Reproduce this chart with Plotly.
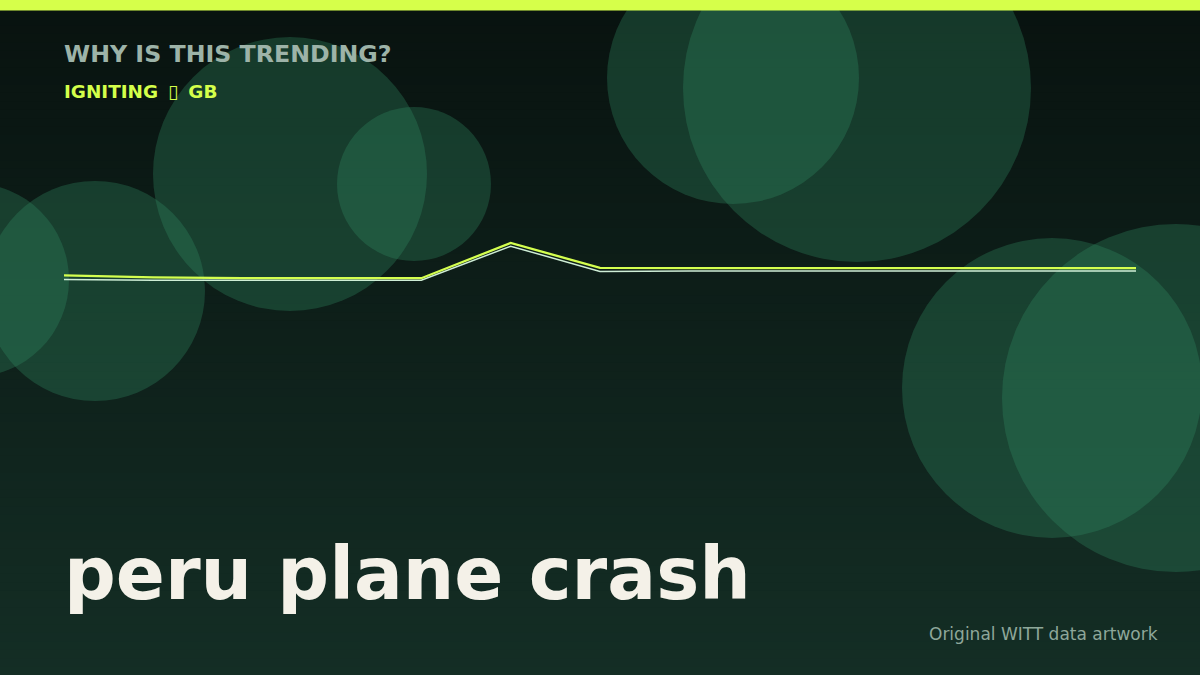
import plotly.graph_objects as go

# Trend data (search interest, arbitrary units)
periods = ["T-12", "T-11", "T-10", "T-9", "T-8", "T-7", "T-6",
           "T-5", "T-4", "T-3", "T-2", "T-1", "T0"]
interest = [19, 14, 12, 12, 12, 100, 38, 37, 37, 37, 37, 37, 37]
echo = [9, 7, 7, 7, 7, 92, 29, 30, 30, 30, 30, 30, 30]

# Texts
kicker = "WHY IS THIS TRENDING?"
status = "IGNITING \u2009\u25AF\u2009 GB"
topic = "peru plane crash"
credit = "Original WITT data artwork"

W, H = 1200, 675

# Decorative bubbles: (cx, cy, r) in pixels
bubbles = [(-28, 280, 97), (95, 291, 110), (290, 174, 137), (414, 184, 77),
           (733, 78, 126), (857, 88, 174), (1052, 388, 150), (1176, 398, 174)]


def mix(c1, c2, t):
    return "rgb(%d,%d,%d)" % tuple(round(a + (b - a) * t) for a, b in zip(c1, c2))


shapes = []
# vertical background gradient (bands overlap a little to hide seams)
top_col, bot_col = (8, 18, 15), (20, 46, 37)
n = 80
for i in range(n):
    shapes.append(dict(type="rect", xref="paper", yref="paper",
                       x0=0, x1=1, y0=max(0, 1 - (i + 1.6) / n), y1=1 - i / n,
                       fillcolor=mix(top_col, bot_col, (i + 0.5) / n),
                       line=dict(width=0), layer="below"))

for cx, cy, r in bubbles:
    shapes.append(dict(type="circle", xref="paper", yref="paper",
                       x0=(cx - r) / W, x1=(cx + r) / W,
                       y0=1 - (cy + r) / H, y1=1 - (cy - r) / H,
                       fillcolor="rgba(50,140,100,0.32)",
                       line=dict(width=0), layer="below"))

# top accent bar
shapes.append(dict(type="rect", xref="paper", yref="paper",
                   x0=0, x1=1, y0=1 - 10.5 / H, y1=1,
                   fillcolor="#d6ff4a", line=dict(width=0), layer="below"))

fig = go.Figure()
fig.add_trace(go.Scatter(x=periods, y=echo, mode="lines",
                         line=dict(color="#cfeed6", width=1.5), hoverinfo="skip"))
fig.add_trace(go.Scatter(x=periods, y=interest, mode="lines",
                         line=dict(color="#d4ff4f", width=2.3), hoverinfo="skip"))

annotations = [
    dict(text="<b>%s</b>" % kicker, x=62 / W, y=1 - 54 / H, xanchor="left", yanchor="middle",
         font=dict(family="DejaVu Sans", size=23.7, color="#9db3a8")),
    dict(text="<b>%s</b>" % status, x=62 / W, y=1 - 91.5 / H, xanchor="left", yanchor="middle",
         font=dict(family="DejaVu Sans", size=18.4, color="#d4ff4a")),
    dict(text="<b>%s</b>" % topic, x=62 / W, y=1 - 574 / H, xanchor="left", yanchor="middle",
         font=dict(family="DejaVu Sans", size=72.4, color="#f4f1e8")),
    dict(text=credit, x=1160 / W, y=1 - 634 / H, xanchor="right", yanchor="middle",
         font=dict(family="DejaVu Sans", size=17, color="#8ea79a")),
]
for a in annotations:
    a.update(xref="paper", yref="paper", showarrow=False)

fig.update_layout(
    width=W, height=H,
    margin=dict(l=0, r=0, t=0, b=0),
    paper_bgcolor="#0b1a15",
    plot_bgcolor="rgba(0,0,0,0)",
    showlegend=False,
    shapes=shapes,
    annotations=annotations,
    xaxis=dict(domain=[64 / W, 1136 / W], range=[0, 12], visible=False, fixedrange=True),
    yaxis=dict(domain=[0, 1], range=[-980, 707.5], visible=False, fixedrange=True),
)

fig.write_html("out.html", config={"displayModeBar": False},
               post_script="document.body.style.margin='0';document.body.style.background='#0b1a15';")
